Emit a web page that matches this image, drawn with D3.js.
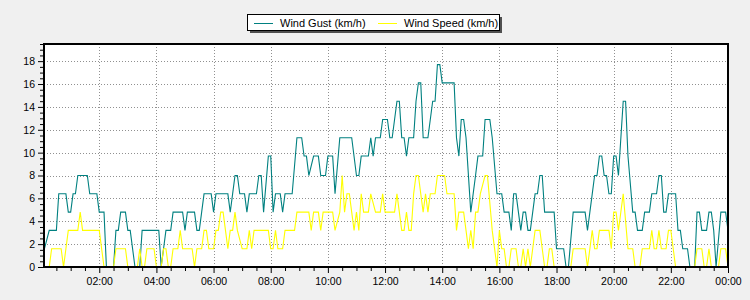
<!DOCTYPE html>
<html>
<head>
<meta charset="utf-8">
<script src="https://cdn.jsdelivr.net/npm/d3@7"></script>
<style>
  body { margin: 0; background: #f0f0f0; }
  svg { display: block; font-family: "Liberation Sans", Arial, sans-serif; }
</style>
</head>
<body>
<div id="chart"></div>
<script>
// ============
// Data (5 minute log, km/h)
// ============
var gustTimes = ["00:05","00:15","00:30","00:35","00:50","00:55","01:00","01:05","01:10","01:15","01:35","01:40","01:55","02:00","02:10","02:15","02:30","02:35","02:40","02:45","02:55","03:00","03:05","03:15","03:25","03:30","04:05","04:10","04:15","04:20","04:30","04:35","04:55","05:00","05:05","05:20","05:25","05:30","05:35","05:40","05:55","06:00","06:05","06:30","06:35","06:40","06:45","06:50","06:55","07:05","07:10","07:15","07:30","07:35","07:40","07:45","07:55","08:00","08:05","08:10","08:20","08:25","08:30","08:45","08:55","09:05","09:10","09:15","09:20","09:30","09:40","09:45","09:55","10:00","10:10","10:15","10:25","10:50","11:00","11:05","11:10","11:25","11:30","11:35","11:40","11:50","11:55","12:05","12:10","12:15","12:20","12:25","12:30","12:35","12:40","12:45","12:50","13:00","13:05","13:10","13:15","13:20","13:30","13:40","13:45","13:50","13:55","14:00","14:25","14:30","14:35","14:40","14:45","14:50","15:00","15:10","15:15","15:25","15:30","15:40","15:45","15:55","16:05","16:10","16:20","16:25","16:30","16:35","16:40","16:45","16:50","16:55","17:00","17:05","17:15","17:20","17:25","17:30","17:35","17:55","18:00","18:15","18:20","18:25","18:35","19:00","19:05","19:10","19:15","19:20","19:25","19:30","19:35","19:40","19:45","19:50","19:55","20:00","20:05","20:10","20:20","20:25","20:30","20:40","20:45","20:50","21:00","21:05","21:15","21:20","21:30","21:35","21:40","21:45","21:50","21:55","22:10","22:15","22:20","22:25","22:35","22:40","22:50","22:55","23:00","23:05","23:15","23:20","23:25","23:30","23:35","23:45","23:55","24:00","24:00"];
var gustKmh = [1.6,3.2,3.2,6.4,6.4,4.8,4.8,6.4,6.4,8.0,8.0,6.4,6.4,4.8,4.8,0,0,3.2,3.2,4.8,4.8,3.2,3.2,0,0,3.2,3.2,0,1.6,3.2,3.2,4.8,4.8,3.2,4.8,4.8,3.2,3.2,4.8,6.4,6.4,4.8,6.4,6.4,4.8,6.4,8.0,8.0,6.4,6.4,4.8,6.4,6.4,8.0,8.0,4.8,9.7,9.7,4.8,6.4,6.4,4.8,6.4,6.4,11.3,11.3,9.7,9.7,8.0,9.7,9.7,8.0,8.0,9.7,9.7,6.4,11.3,11.3,8.0,8.0,9.7,9.7,11.3,9.7,11.3,11.3,12.9,12.9,11.3,11.3,12.9,14.5,14.5,11.3,11.3,9.7,11.3,11.3,14.5,16.1,16.1,11.3,11.3,14.5,14.5,17.7,17.7,16.1,16.1,11.3,9.7,12.9,12.9,11.3,4.8,8.0,9.7,9.7,12.9,12.9,11.3,6.4,6.4,4.8,4.8,3.2,6.4,6.4,4.8,3.2,4.8,4.8,3.2,3.2,6.4,6.4,8.0,8.0,4.8,4.8,1.6,1.6,0,0,4.8,4.8,3.2,4.8,6.4,8.0,8.0,9.7,9.7,8.0,8.0,6.4,6.4,9.7,9.7,8.0,14.5,14.5,9.7,4.8,4.8,3.2,3.2,4.8,4.8,6.4,6.4,8.0,8.0,4.8,4.8,6.4,6.4,3.2,3.2,1.6,1.6,0,0,4.8,4.8,3.2,3.2,4.8,4.8,3.2,0,4.8,4.8,3.2,1.6];

var speedTimes = ["00:05","00:15","00:20","00:40","00:45","00:50","00:55","01:15","01:20","01:25","02:00","02:10","02:30","02:35","02:55","03:00","03:20","03:25","03:30","03:35","03:40","03:55","04:00","04:10","04:15","04:20","04:25","04:30","04:35","04:45","04:50","04:55","05:15","05:20","05:25","05:35","05:40","05:45","05:50","06:00","06:05","06:10","06:15","06:20","06:25","06:30","06:35","06:40","06:45","06:50","07:00","07:10","07:15","07:20","07:25","07:55","08:00","08:05","08:10","08:15","08:25","08:30","08:50","08:55","09:20","09:25","09:30","09:40","09:45","09:50","10:10","10:15","10:25","10:30","10:35","10:40","10:45","10:55","11:00","11:05","11:10","11:15","11:25","11:30","11:40","11:50","11:55","12:00","12:20","12:25","12:35","12:40","12:45","12:50","12:55","13:00","13:05","13:10","13:20","13:25","13:30","13:35","13:45","13:50","14:05","14:10","14:25","14:30","14:35","14:45","14:50","14:55","15:00","15:05","15:10","15:15","15:20","15:30","15:35","15:45","15:55","16:00","16:05","16:10","16:15","16:20","16:25","16:35","16:40","16:45","16:50","16:55","17:00","17:05","17:10","17:15","17:25","17:30","17:35","17:40","17:45","17:50","17:55","18:30","18:35","19:00","19:05","19:15","19:20","19:25","19:30","19:50","19:55","20:00","20:05","20:10","20:20","20:30","20:40","20:45","20:55","21:00","21:15","21:20","21:25","21:30","21:35","21:40","21:50","21:55","22:00","22:05","22:10","22:50","22:55","23:05","23:10","23:15","23:20","23:25","23:40","23:45","23:55","24:00"];
var speedKmh = [0,0,1.6,1.6,0,1.6,3.2,3.2,4.8,3.2,3.2,0,0,1.6,1.6,0,0,1.6,0,0,1.6,1.6,0,0,1.6,1.6,0,0,1.6,1.6,3.2,1.6,1.6,0,1.6,1.6,3.2,3.2,1.6,1.6,3.2,3.2,4.8,4.8,3.2,1.6,3.2,3.2,4.8,3.2,1.6,1.6,3.2,1.6,3.2,3.2,1.6,1.6,3.2,1.6,1.6,3.2,3.2,4.8,4.8,3.2,4.8,4.8,3.2,4.8,4.8,3.2,4.8,8.0,4.8,6.4,6.4,3.2,4.8,3.2,6.4,4.8,4.8,6.4,4.8,4.8,6.4,4.8,4.8,6.4,3.2,3.2,4.8,3.2,3.2,6.4,8.0,8.0,4.8,6.4,4.8,6.4,6.4,8.0,8.0,6.4,6.4,3.2,4.8,4.8,3.2,1.6,3.2,1.6,4.8,4.8,6.4,8.0,8.0,3.2,0,3.2,1.6,1.6,0,0,1.6,1.6,0,0,1.6,0,1.6,0,1.6,3.2,3.2,1.6,0,0,1.6,1.6,0,0,1.6,1.6,0,3.2,1.6,1.6,3.2,3.2,1.6,4.8,4.8,3.2,6.4,1.6,1.6,0,0,1.6,1.6,3.2,1.6,1.6,3.2,1.6,1.6,3.2,3.2,1.6,0,0,1.6,1.6,0,0,1.6,0,0,1.6,1.6,0];

var seriesNames = ["Wind Gust (km/h)", "Wind Speed (km/h)"];
var seriesColors = ["#008080", "#ffff00"];

// ============
// Set up of the chart and svg
// ============
var svgWidth = 750;
var svgHeight = 300;

var plot = { left: 44, top: 44, right: 728, bottom: 267 };

var svg = d3.select("#chart")
  .append("svg")
  .attr("width", svgWidth)
  .attr("height", svgHeight);

svg.append("rect")
  .attr("width", svgWidth)
  .attr("height", svgHeight)
  .attr("fill", "#f0f0f0");

function toDate(s) {
  var p = s.split(":");
  return new Date(2000, 0, 1, +p[0], +p[1]);
}

var gustData = gustTimes.map((t, i) => ({ t: toDate(t), v: gustKmh[i] }));
var speedData = speedTimes.map((t, i) => ({ t: toDate(t), v: speedKmh[i] }));

var xScale = d3.scaleTime()
  .domain([toDate("00:04"), toDate("24:00")])
  .range([plot.left, plot.right]);

var yScale = d3.scaleLinear()
  .domain([0, 19.5])
  .range([plot.bottom, plot.top]);

// plot background
svg.append("rect")
  .attr("x", plot.left)
  .attr("y", plot.top)
  .attr("width", plot.right - plot.left)
  .attr("height", plot.bottom - plot.top)
  .attr("fill", "#ffffff");

// grid lines
var majorX = d3.range(1, 13).map(h => toDate((h * 2) + ":00"));
var majorY = d3.range(2, 19, 2);

svg.append("g")
  .selectAll("line")
  .data(majorX.slice(0, -1))
  .enter()
  .append("line")
  .attr("x1", d => Math.round(xScale(d)) + 0.5)
  .attr("x2", d => Math.round(xScale(d)) + 0.5)
  .attr("y1", plot.top)
  .attr("y2", plot.bottom)
  .attr("stroke", "#909090")
  .attr("stroke-dasharray", "1,2");

svg.append("g")
  .selectAll("line")
  .data(majorY)
  .enter()
  .append("line")
  .attr("x1", plot.left)
  .attr("x2", plot.right)
  .attr("y1", d => Math.round(yScale(d)) + 0.5)
  .attr("y2", d => Math.round(yScale(d)) + 0.5)
  .attr("stroke", "#909090")
  .attr("stroke-dasharray", "1,2");

// axes
var leftAxis = d3.axisLeft(yScale)
  .tickValues(d3.range(0, 19, 2))
  .tickSize(5)
  .tickPadding(3)
  .tickFormat(d3.format("d"));

var leftMinor = d3.axisLeft(yScale)
  .tickValues(d3.range(0, 19.6, 0.5).filter(v => v % 2 !== 0))
  .tickSize(3)
  .tickFormat("");

var bottomAxis = d3.axisBottom(xScale)
  .tickValues(majorX)
  .tickSize(5)
  .tickPadding(5)
  .tickFormat(d3.timeFormat("%H:%M"));

var minorX = d3.range(1, 48).map(i => new Date(2000, 0, 1, 0, i * 30))
  .filter((d, i) => (i + 1) % 4 !== 0);

var bottomMinor = d3.axisBottom(xScale)
  .tickValues(minorX)
  .tickSize(3)
  .tickFormat("");

function styleAxis(g) {
  g.select(".domain").remove();
  g.selectAll("line").attr("stroke", "#000");
  g.selectAll("text")
    .attr("fill", "#000")
    .style("font-size", "10.5px")
    .style("font-family", "'Liberation Sans', Arial, sans-serif");
}

svg.append("g")
  .attr("transform", `translate(${plot.left - 1}, 0)`)
  .call(leftAxis)
  .call(styleAxis);

svg.append("g")
  .attr("transform", `translate(${plot.left - 1}, 0)`)
  .call(leftMinor)
  .call(styleAxis);

svg.append("g")
  .attr("transform", `translate(0, ${plot.bottom + 1})`)
  .call(bottomAxis)
  .call(styleAxis);

svg.append("g")
  .attr("transform", `translate(0, ${plot.bottom + 1})`)
  .call(bottomMinor)
  .call(styleAxis);

// series lines
svg.append("clipPath")
  .attr("id", "plotClip")
  .append("rect")
  .attr("x", plot.left)
  .attr("y", plot.top)
  .attr("width", plot.right - plot.left)
  .attr("height", plot.bottom - plot.top);

var line = d3.line()
  .x(d => xScale(d.t))
  .y(d => yScale(d.v));

svg.append("path")
  .datum(gustData)
  .attr("clip-path", "url(#plotClip)")
  .attr("fill", "none")
  .attr("stroke", seriesColors[0])
  .attr("stroke-width", 1.1)
  .attr("d", line);

svg.append("path")
  .datum(speedData)
  .attr("clip-path", "url(#plotClip)")
  .attr("fill", "none")
  .attr("stroke", seriesColors[1])
  .attr("stroke-width", 1.1)
  .attr("d", line);

// plot frame
svg.append("rect")
  .attr("x", plot.left)
  .attr("y", plot.top)
  .attr("width", plot.right - plot.left)
  .attr("height", plot.bottom - plot.top)
  .attr("fill", "none")
  .attr("stroke", "#000")
  .attr("stroke-width", 2);

// ============
// Legend
// ============
var legend = svg.append("g");

legend.append("rect")
  .attr("x", 250)
  .attr("y", 17)
  .attr("width", 252)
  .attr("height", 16)
  .attr("fill", "#505050");

legend.append("rect")
  .attr("x", 247.5)
  .attr("y", 14.5)
  .attr("width", 252)
  .attr("height", 16)
  .attr("fill", "#fff")
  .attr("stroke", "#000");

var legendX = [254, 378];
seriesNames.forEach(function(name, i) {
  legend.append("line")
    .attr("x1", legendX[i])
    .attr("x2", legendX[i] + 19)
    .attr("y1", 23.5)
    .attr("y2", 23.5)
    .attr("stroke", seriesColors[i]);
  legend.append("text")
    .attr("x", legendX[i] + 26)
    .attr("y", 27)
    .style("font-size", "11px")
    .attr("fill", "#000")
    .text(name);
});
</script>
</body>
</html>
